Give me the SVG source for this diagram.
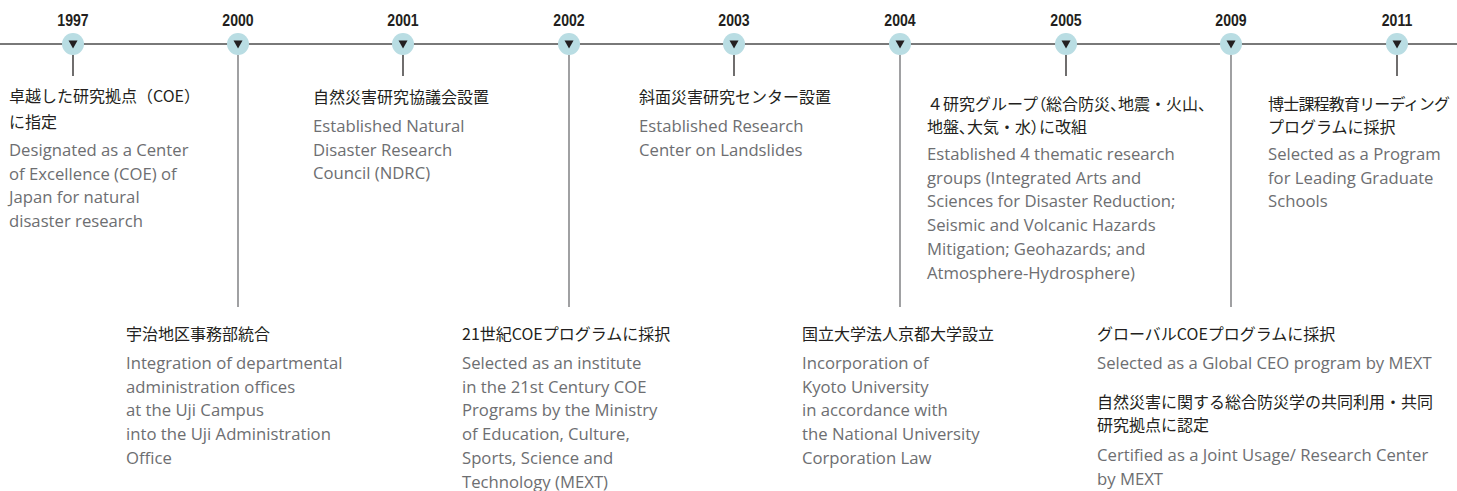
<svg xmlns="http://www.w3.org/2000/svg" width="1457" height="491" viewBox="0 0 1457 491">
<style>
.yr{font-family:"Liberation Sans",Arial,sans-serif;font-weight:bold;font-size:16px;fill:#231f20;text-anchor:middle}
.jp{font-family:"Noto Sans CJK JP","Noto Sans",sans-serif;font-size:16px;fill:#231f20}
.pa{font-feature-settings:"palt"}
.en{font-family:"Open Sans","Liberation Sans",sans-serif;font-size:16.7px;fill:#6d6e71}
.dot{fill:#b9dde3}
.tri{fill:#231f20}
.axis{stroke:#4d4d4d;stroke-width:1.3;fill:none}
.short{stroke:#231f20;stroke-width:1.3}
.long{stroke:#6d6e71;stroke-width:1.3}
</style>
<defs>
<g id="marker"><circle class="dot" cx="0" cy="44" r="11"/><polygon class="tri" points="-4.5,40.5 4.5,40.5 0,48.5"/></g>
</defs>
<g id="connectors">
<line class="axis" x1="0" y1="44" x2="1457" y2="44"/>
<line class="short" x1="73" y1="55" x2="73" y2="76"/>
<line class="long" x1="238" y1="55" x2="238" y2="307"/>
<line class="short" x1="403" y1="55" x2="403" y2="76"/>
<line class="long" x1="569" y1="55" x2="569" y2="307"/>
<line class="short" x1="734" y1="55" x2="734" y2="76"/>
<line class="long" x1="900" y1="55" x2="900" y2="307"/>
<line class="short" x1="1066" y1="55" x2="1066" y2="76"/>
<line class="long" x1="1231" y1="55" x2="1231" y2="307"/>
<line class="short" x1="1397" y1="55" x2="1397" y2="76"/>
</g>
<g id="n1997">
<use href="#marker" x="73"/>
<text class="yr" transform="translate(73,26) scale(0.88,1)">1997</text>
<text class="jp" x="9" y="102">卓越した研究拠点（COE）</text>
<text class="jp" x="9" y="128">に指定</text>
<text class="en" x="9" y="156">Designated as a Center</text>
<text class="en" x="9" y="179.7">of Excellence (COE) of</text>
<text class="en" x="9" y="203.4">Japan for natural</text>
<text class="en" x="9" y="227">disaster research</text>
</g>
<g id="n2000">
<use href="#marker" x="238"/>
<text class="yr" transform="translate(238,26) scale(0.88,1)">2000</text>
<text class="jp" x="126" y="340">宇治地区事務部統合</text>
<text class="en" x="126" y="369">Integration of departmental</text>
<text class="en" x="126" y="392.7">administration offices</text>
<text class="en" x="126" y="416.4">at the Uji Campus</text>
<text class="en" x="126" y="440.1">into the Uji Administration</text>
<text class="en" x="126" y="463.8">Office</text>
</g>
<g id="n2001">
<use href="#marker" x="403"/>
<text class="yr" transform="translate(403,26) scale(0.88,1)">2001</text>
<text class="jp" x="313" y="103">自然災害研究協議会設置</text>
<text class="en" x="313" y="132">Established Natural</text>
<text class="en" x="313" y="155.7">Disaster Research</text>
<text class="en" x="313" y="179.4">Council (NDRC)</text>
</g>
<g id="n2002">
<use href="#marker" x="569"/>
<text class="yr" transform="translate(569,26) scale(0.88,1)">2002</text>
<text class="jp" x="462" y="340">21世紀COEプログラムに採択</text>
<text class="en" x="462" y="369">Selected as an institute</text>
<text class="en" x="462" y="392.7">in the 21st Century COE</text>
<text class="en" x="462" y="416.4">Programs by the Ministry</text>
<text class="en" x="462" y="440.1">of Education, Culture,</text>
<text class="en" x="462" y="463.8">Sports, Science and</text>
<text class="en" x="462" y="487.5">Technology (MEXT)</text>
</g>
<g id="n2003">
<use href="#marker" x="734"/>
<text class="yr" transform="translate(734,26) scale(0.88,1)">2003</text>
<text class="jp" x="639" y="103">斜面災害研究センター設置</text>
<text class="en" x="639" y="132">Established Research</text>
<text class="en" x="639" y="155.7">Center on Landslides</text>
</g>
<g id="n2004">
<use href="#marker" x="900"/>
<text class="yr" transform="translate(900,26) scale(0.88,1)">2004</text>
<text class="jp" x="802" y="340">国立大学法人京都大学設立</text>
<text class="en" x="802" y="369">Incorporation of</text>
<text class="en" x="802" y="392.7">Kyoto University</text>
<text class="en" x="802" y="416.4">in accordance with</text>
<text class="en" x="802" y="440.1">the National University</text>
<text class="en" x="802" y="463.8">Corporation Law</text>
</g>
<g id="n2005">
<use href="#marker" x="1066"/>
<text class="yr" transform="translate(1066,26) scale(0.88,1)">2005</text>
<text class="jp" x="927" y="110">４研究グループ<tspan class="pa">（</tspan>総合防災<tspan class="pa">、</tspan>地震・火山<tspan class="pa">、</tspan></text>
<text class="jp" x="927" y="133">地盤<tspan class="pa">、</tspan>大気・水<tspan class="pa">）</tspan>に改組</text>
<text class="en" x="927" y="160">Established 4 thematic research</text>
<text class="en" x="927" y="183.7">groups (Integrated Arts and</text>
<text class="en" x="927" y="207.4">Sciences for Disaster Reduction;</text>
<text class="en" x="927" y="231.1">Seismic and Volcanic Hazards</text>
<text class="en" x="927" y="254.8">Mitigation; Geohazards; and</text>
<text class="en" x="927" y="278.5">Atmosphere-Hydrosphere)</text>
</g>
<g id="n2009">
<use href="#marker" x="1231"/>
<text class="yr" transform="translate(1231,26) scale(0.88,1)">2009</text>
<text class="jp" x="1097" y="340">グローバルCOEプログラムに採択</text>
<text class="en" x="1097" y="369">Selected as a Global CEO program by MEXT</text>
<text class="jp" x="1097" y="408">自然災害に関する総合防災学の共同利用・共同</text>
<text class="jp" x="1097" y="431">研究拠点に認定</text>
<text class="en" x="1097" y="461">Certified as a Joint Usage/ Research Center</text>
<text class="en" x="1097" y="484.5">by MEXT</text>
</g>
<g id="n2011">
<use href="#marker" x="1397"/>
<text class="yr" transform="translate(1397,26) scale(0.88,1)">2011</text>
<text class="jp" x="1268" y="110" textLength="182" lengthAdjust="spacing">博士課程教育リーディング</text>
<text class="jp" x="1268" y="133">プログラムに採択</text>
<text class="en" x="1268" y="160">Selected as a Program</text>
<text class="en" x="1268" y="183.7">for Leading Graduate</text>
<text class="en" x="1268" y="207.4">Schools</text>
</g>
</svg>
